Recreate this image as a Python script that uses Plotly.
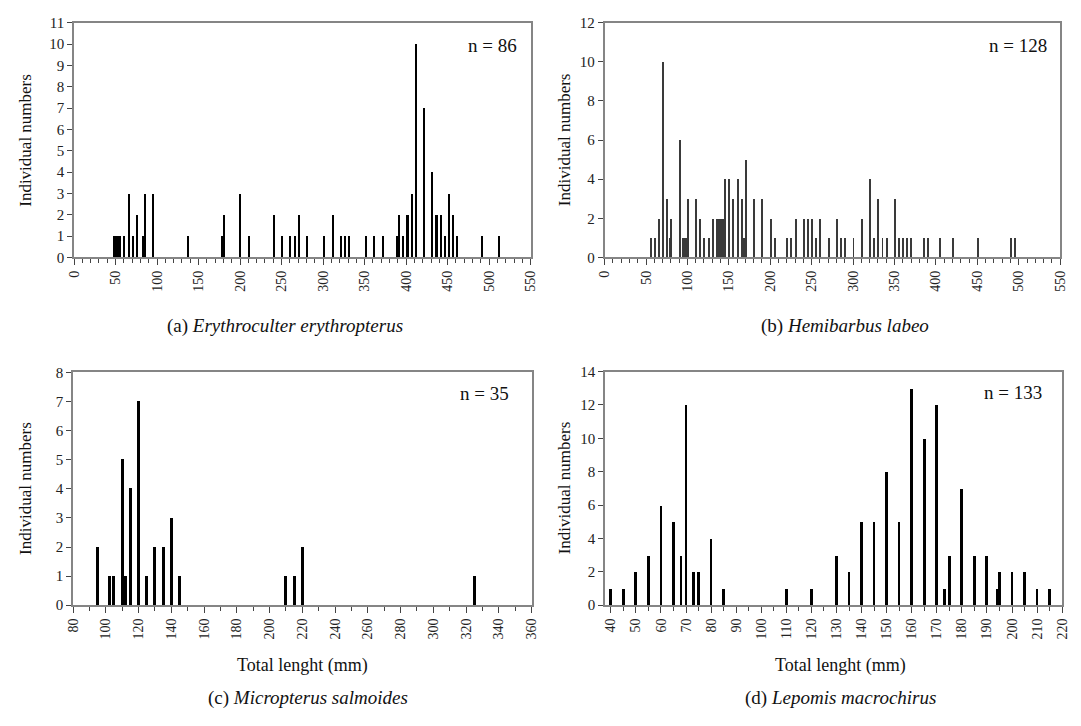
import plotly.graph_objects as go

# Length-frequency data: total length (mm) and number of individuals
a_len = [49, 51, 53, 56, 61, 66, 71, 76, 84, 86, 96, 138, 179, 181, 200, 211, 241, 251, 261, 266,
         271, 281, 301, 312, 322, 327, 332, 352, 362, 372, 390, 392, 397, 402, 407, 412, 422, 432,
         437, 442, 447, 452, 457, 462, 492, 512]
a_cnt = [1, 1, 1, 1, 1, 3, 1, 2, 1, 3, 3, 1, 1, 2, 3, 1, 2, 1, 1, 1,
         2, 1, 1, 2, 1, 1, 1, 1, 1, 1, 1, 2, 1, 2, 3, 10, 7, 4,
         2, 2, 1, 3, 2, 1, 1, 1]

b_len = [55, 60, 65, 70, 75, 78, 80, 90, 91, 94, 96, 98, 100, 110, 115, 120, 125, 130, 135, 138,
         140, 143, 145, 150, 155, 160, 165, 168, 170, 180, 190, 200, 205, 220, 225, 230, 240, 245,
         250, 255, 260, 270, 280, 285, 290, 300, 310, 320, 325, 330, 335, 340, 350, 355, 360, 365,
         370, 385, 390, 405, 420, 450, 490, 495]
b_cnt = [1, 1, 2, 10, 3, 1, 2, 6, 1, 1, 1, 1, 3, 3, 2, 1, 1, 2, 2, 2,
         2, 2, 4, 4, 3, 4, 3, 1, 5, 3, 3, 2, 1, 1, 1, 2, 2, 2,
         2, 1, 2, 1, 2, 1, 1, 1, 2, 4, 1, 3, 1, 1, 3, 1, 1, 1,
         1, 1, 1, 1, 1, 1, 1, 1]

c_len = [95, 102, 105, 110, 112, 115, 120, 125, 130, 135, 140, 145, 210, 215, 220, 325]
c_cnt = [2, 1, 1, 5, 1, 4, 7, 1, 2, 2, 3, 1, 1, 1, 2, 1]

d_len = [40, 45, 50, 55, 60, 65, 68, 70, 73, 75, 80, 85, 110, 120, 130, 135, 140, 145, 150, 155,
         160, 165, 170, 173, 175, 180, 185, 190, 194, 195, 200, 205, 210, 215]
d_cnt = [1, 1, 2, 3, 6, 5, 3, 12, 2, 2, 4, 1, 1, 1, 3, 2, 5, 5, 8, 5,
         13, 10, 12, 1, 3, 7, 3, 3, 1, 2, 2, 2, 1, 1]

# Tick labels
ab_ticks = list(range(0, 551, 50))
c_ticks = list(range(80, 361, 20))
d_ticks = list(range(40, 221, 10))

sample_sizes = ["n = 86", "n = 128", "n = 35", "n = 133"]
panel_titles = [
    "(a) <i>Erythroculter erythropterus</i>",
    "(b) <i>Hemibarbus labeo</i>",
    "(c) <i>Micropterus salmoides</i>",
    "(d) <i>Lepomis macrochirus</i>",
]
y_title = "Individual numbers"
x_title = "Total lenght (mm)"

W, H = 1081, 726
SERIF = "Liberation Serif"
AX_COLOR = "#858585"


def xdom(left, right):
    return [left / W, right / W]


def ydom(top, bottom):
    return [1 - bottom / H, 1 - top / H]


fig = go.Figure()

panels = [
    # x data, y data, bar width, bar colour, x range, x ticks, minor dtick, y range, y dtick, x px, y px
    (a_len, a_cnt, 1.9, "black", [0, 550], ab_ticks, 10, [0, 11], 1, (68, 531), (15, 255)),
    (b_len, b_cnt, 1.2, "#3a3a3a", [0, 550], ab_ticks, 10, [0, 12], 2, (606, 1068), (15, 255)),
    (c_len, c_cnt, 1.8, "black", [80, 360], c_ticks, 10, [0, 8], 1, (67, 532), (372.5, 610.7)),
    (d_len, d_cnt, 1.1, "black", [37.7, 220], d_ticks, 5, [0, 14], 2, (606.5, 1070), (371.7, 610.7)),
]

layout_axes = {}
for i, (xs, ys, bw, bc, xr, xt, mdt, yr, ydt, (xl, xrp), (yt, yb)) in enumerate(panels, start=1):
    sfx = "" if i == 1 else str(i)
    fig.add_trace(go.Bar(
        x=xs, y=ys, width=bw,
        marker=dict(color=bc, line=dict(width=0)),
        xaxis="x" + sfx, yaxis="y" + sfx, showlegend=False,
    ))
    layout_axes["xaxis" + sfx] = dict(
        domain=xdom(xl, xrp), anchor="y" + sfx, range=xr,
        tickmode="array", tickvals=xt, ticktext=[str(v) for v in xt],
        tickangle=-90, ticks="outside", ticklen=6, tickwidth=1, tickcolor="#444",
        minor=dict(dtick=mdt, tick0=xr[0] if i != 4 else 40, ticks="outside", ticklen=4,
                   tickwidth=1, tickcolor="#444", showgrid=False),
        showline=True, linecolor=AX_COLOR, linewidth=1.5, mirror=True,
        showgrid=False, zeroline=False,
        tickfont=dict(family=SERIF, size=14, color="#222"),
        fixedrange=True,
    )
    layout_axes["yaxis" + sfx] = dict(
        domain=ydom(yt, yb), anchor="x" + sfx, range=yr, dtick=ydt, tick0=0,
        ticks="outside", ticklen=5, tickwidth=1, tickcolor="#444",
        showline=True, linecolor=AX_COLOR, linewidth=1.5, mirror=True,
        showgrid=False, zeroline=False,
        tickfont=dict(family=SERIF, size=15, color="#222"),
        fixedrange=True,
    )

annotations = []

def add_text(text, px, py, size, angle=0, xanchor="center"):
    annotations.append(dict(
        text=text, x=px / W, y=1 - py / H, xref="paper", yref="paper",
        xanchor=xanchor, yanchor="middle", showarrow=False, textangle=angle,
        font=dict(family=SERIF, size=size, color="#111"),
    ))

# sample sizes
for txt, (px, py) in zip(sample_sizes, [(492, 38), (1025, 38), (484, 394), (1020, 393)]):
    add_text(txt, px, py, 19)

# panel captions
for txt, (px, py) in zip(panel_titles, [(282, 325), (850, 325), (305, 706), (845, 706)]):
    add_text(txt, px, py, 19)

# axis titles
for px, py in [(18, 135), (565, 135), (18, 491), (565, 491)]:
    add_text(y_title, px, py, 17, angle=-90)
for px, py in [(300, 672), (845, 672)]:
    add_text(x_title, px, py, 18)

fig.update_layout(
    width=W, height=H,
    margin=dict(l=0, r=0, t=0, b=0),
    paper_bgcolor="white", plot_bgcolor="white",
    bargap=0, barmode="overlay",
    annotations=annotations,
    **layout_axes,
)

fig.write_html("out.html", config={"displayModeBar": False})
